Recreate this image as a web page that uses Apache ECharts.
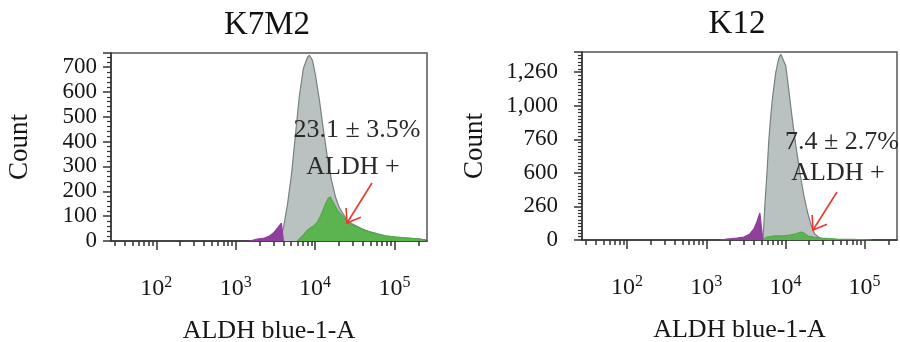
<!DOCTYPE html>
<html><head><meta charset="utf-8">
<script src="https://cdn.jsdelivr.net/npm/echarts@6/dist/echarts.min.js"></script>
<style>html,body{margin:0;padding:0;background:#fff}#c{width:900px;height:342px}</style>
</head><body><div id="c"></div>
<script>
// ---- data (intensity, count) ----
const k7m2GrayX = [3556,3995,4487,5039,5660,6356,7140,8020,8500,9270,10120,11360,12760,14330,16100,18080,20300,23490,25650,29650,34270,40740,48530,61200,77230,103200,146300,207400,254000];
const k7m2GrayY = [0,52,145,265,426,586,695,739,747,727,667,566,446,333,245,177,133,100,80,68,58,46,38,29,21,16,12,8,4];
const k7m2GreenX = [5998,6935,8020,9546,10720,12040,13520,14750,15640,17060,19150,22170,25650,29650,34270,40740,48530,61200,77230,103200,146300,207400,254000];
const k7m2GreenY = [0,20,44,60,76,108,149,173,177,153,124,100,76,64,56,44,36,28,20,16,12,8,4];
const k7m2PurpleX = [1489,1879,2301,2661,2988,3357,3768,3880,3995];
const k7m2PurpleY = [0,8,12,20,32,52,72,68,0];

const k12GrayX = [5188,5343,5500,5826,6175,6546,6935,7568,8260,8750,9270,10120,11040,12040,13520,15200,17060,19150,21520,23490,27170,38460];
const k12GrayY = [0,112,260,484,744,930,1079,1250,1354,1384,1376,1295,1116,930,707,506,335,201,97,45,15,0];
const k12PurpleX = [1489,1824,2439,2988,3556,3995,4357,4755,5039,5188];
const k12PurpleY = [0,7,15,22,45,82,134,201,193,0];
const k12GreenX = [5188,5826,7140,9016,11360,13520,15640,17060,19150,22800,28770,44460,68760,123000];
const k12GreenY = [0,22,30,30,37,45,60,52,30,22,15,7,4,0];

const titles = ['K7M2', 'K12'];
const pctLabels = ['23.1 \u00b1 3.5%', '7.4 \u00b1 2.7%'];
const k7m2YTicks = ['0','100','200','300','400','500','600','700'];
const k12YTicks = ['0','260','600','760','1,000','1,260'];
const xDecades = [2, 3, 4, 5];

// ---- helpers ----
const FONT = '"Liberation Serif", "Times New Roman", serif';
const TXT = '#161616';
const pts = (xs, ys) => xs.map((x, i) => [Math.log10(x), ys[i]]);
const XMIN = 1.43, XMAX = 5.41;
const minorVals = [];
for (let d = 1; d <= 5; d++) for (let k = 2; k <= 9; k++) {
  const v = Math.log10(k * Math.pow(10, d));
  if (v > XMIN && v < XMAX) minorVals.push(v);
}

const grids = [
  {left: 111, top: 53, width: 316, height: 188},
  {left: 582, top: 52, width: 315, height: 188}
];

function xAxes(gi) {
  return [
    {type:'value', gridIndex: gi, min: XMIN, max: XMAX, position:'bottom',
     axisLine:{show:true, lineStyle:{color:'#333', width:1.5}},
     splitLine:{show:false},
     axisTick:{show:true, inside:false, length:5, customValues: minorVals, lineStyle:{color:'#333', width:1.5}},
     axisLabel:{show:false},
     name: 'ALDH blue-1-A', nameLocation:'middle', nameGap: 77,
     nameTextStyle:{fontFamily: FONT, fontSize: 26, color: TXT}
    },
    {type:'value', gridIndex: gi, min: XMIN, max: XMAX, position:'bottom',
     axisLine:{show:false}, splitLine:{show:false},
     axisTick:{show:true, length:9, customValues: xDecades, lineStyle:{color:'#333', width:1.5}},
     axisLabel:{show:true, customValues: xDecades, margin: 34, hideOverlap: false,
       formatter: v => '{b|10}{s|' + Math.round(v) + '}',
       rich:{ b:{fontFamily: FONT, fontSize: 24, color: TXT, lineHeight: 27},
              s:{fontFamily: FONT, fontSize: 16, color: TXT, lineHeight: 15, verticalAlign:'top'} }
     }
    }
  ];
}

function yAxis(gi, max, interval, labels, minorSplit, margin, nameGap) {
  return {type:'value', gridIndex: gi, min: 0, max: max, interval: interval,
    axisLine:{show:true, lineStyle:{color:'#333', width:1.5}},
    splitLine:{show:false},
    axisTick:{show:true, length: 8, lineStyle:{color:'#333', width:1.5}},
    minorTick:{show:true, splitNumber: minorSplit, length: 4, lineStyle:{color:'#333', width:1.2}},
    axisLabel:{margin: margin, fontFamily: FONT, fontSize: 23, color: TXT, hideOverlap: false, lineHeight: 20,
      formatter: v => { const i = Math.round(v / interval); return labels[i] !== undefined ? labels[i] : ''; }},
    name:'Count', nameLocation:'middle', nameGap: nameGap,
    nameTextStyle:{fontFamily: FONT, fontSize: 27, color: TXT}
  };
}

const GRAY = '#bac1c1', GRAYLINE = '#768181', GREEN = '#5bb450', PURPLE = '#8f3f9c';
function area(name, data, xi, yi, fill, line, z) {
  return {type:'line', name, data, xAxisIndex: xi, yAxisIndex: yi, showSymbol:false, symbol:'none',
    smooth:false, z: z, silent:true,
    lineStyle:{color: line, width: 1.2}, areaStyle:{color: fill, opacity: 1}};
}

const series = [
  area('gray1', pts(k7m2GrayX, k7m2GrayY), 0, 0, GRAY, GRAYLINE, 2),
  area('green1', pts(k7m2GreenX, k7m2GreenY), 0, 0, GREEN, '#4fa846', 3),
  area('purple1', pts(k7m2PurpleX, k7m2PurpleY), 0, 0, PURPLE, PURPLE, 4),
  area('gray2', pts(k12GrayX, k12GrayY), 2, 1, GRAY, GRAYLINE, 2),
  area('green2', pts(k12GreenX, k12GreenY), 2, 1, GREEN, '#4fa846', 3),
  area('purple2', pts(k12PurpleX, k12PurpleY), 2, 1, PURPLE, PURPLE, 4)
];

function arrow(x1, y1, x2, y2) {
  const a = Math.atan2(y1 - y2, x1 - x2), L = 15, sp = 0.62;
  const head = [[x2 + L*Math.cos(a+sp), y2 + L*Math.sin(a+sp)], [x2, y2], [x2 + L*Math.cos(a-sp), y2 + L*Math.sin(a-sp)]];
  return [
    {type:'line', shape:{x1, y1, x2, y2}, style:{stroke:'#e83a2c', lineWidth:1.6}, z: 50},
    {type:'polyline', shape:{points: head}, style:{stroke:'#e83a2c', lineWidth:1.6, fill:null}, z: 50}
  ];
}
function txt(t, x, y, size, color) {
  return {type:'text', x, y, z: 60, style:{text: t, x: 0, y: 0, align:'center', verticalAlign:'middle',
    font: size + 'px ' + FONT, fill: color}};
}

const graphic = [
  txt(titles[0], 267, 25, 33, '#111'),
  txt(titles[1], 737, 24, 33, '#111'),
  txt(pctLabels[0], 357, 130, 26, '#2a2a2a'),
  txt('ALDH +', 353, 167, 26, '#2a2a2a'),
  txt(pctLabels[1], 842, 142, 26, '#2a2a2a'),
  txt('ALDH +', 838, 173, 26, '#2a2a2a'),
  ...arrow(372, 183, 347, 223),
  ...arrow(837, 192, 813, 230)
];

const chart = echarts.init(document.getElementById('c'));
chart.setOption({
  animation: false,
  backgroundColor: '#fff',
  grid: grids.map(g => Object.assign({show:true, borderColor:'#555', borderWidth:1.5, backgroundColor:'#fff',
    containLabel:false, outerBoundsMode:'none'}, g)),
  xAxis: [...xAxes(0), ...xAxes(1)],
  yAxis: [
    yAxis(0, 756, 100, k7m2YTicks, 5, 14, 78),
    yAxis(1, 1400, 250, k12YTicks, 10, 24, 94)
  ],
  series,
  graphic
});
</script></body></html>
